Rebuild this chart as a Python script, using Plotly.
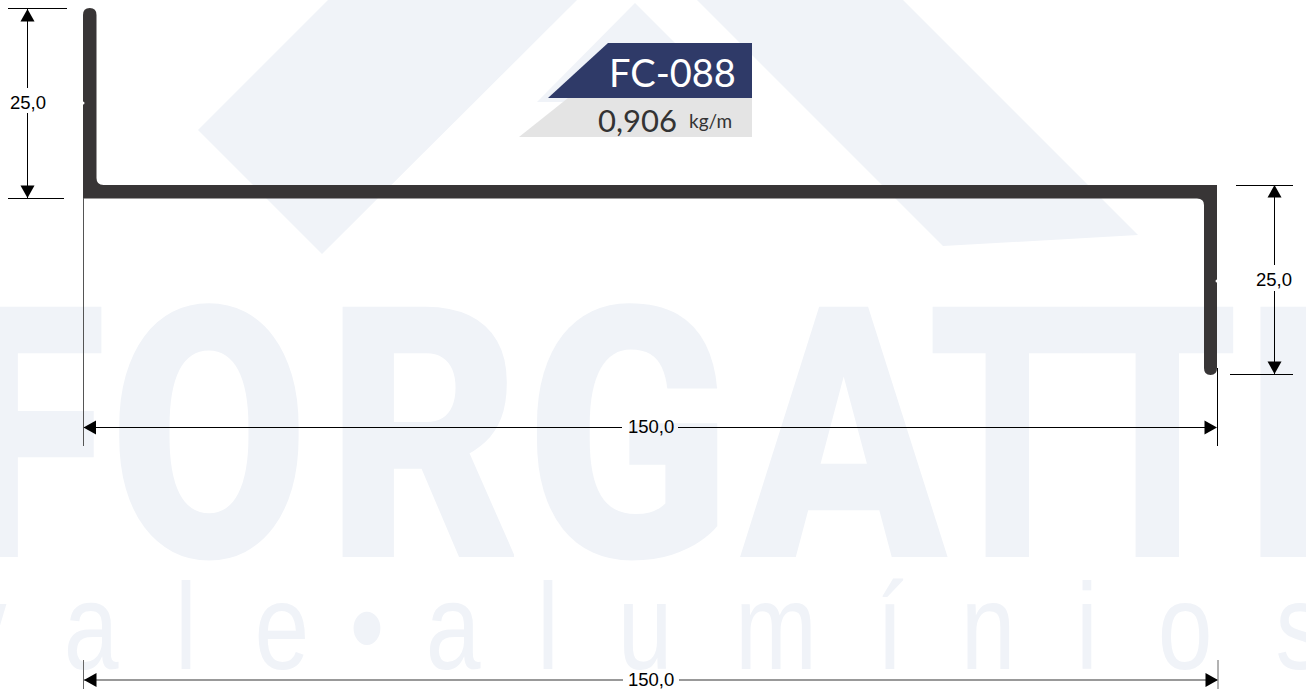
import json
import plotly.graph_objects as go

WIDTH, HEIGHT = 1306, 689
WM = "#f0f3f8"; DARK = "#383536"; NAVY = "#2f3a68"; GREY = "#e4e4e4"; INK = "#000000"

# watermark logo
roof_left = [(328, 0), (577, 0), (322, 254), (198, 130)]
roof_mid = [(635, 3), (537, 102), (720, 102), (720, 88)]
roof_right = [(697, 0), (903, 0), (1138, 235), (943, 246)]
brand_letters = list("FORGATTI")
brand_x = [31, 209, 424, 628, 844, 1008, 1158, 1284]
brand_squeeze = [0.78, 0.82, 0.85, 0.86, 0.86, 0.72, 0.72, 0.78]
brand_y = 469
sub_letters = list("vale•alumínios")
sub_x = [-18, 91, 186, 282, 367, 453, 548, 645, 776, 890, 988, 1087, 1185, 1300]
sub_squeeze = [0.8] * len(sub_letters)
sub_y = 638

# label
navy_tag = [(608, 43), (752, 43), (752, 98), (548, 98)]
grey_tag = [(568, 98), (752, 98), (752, 137), (519, 137)]
code = "FC-088"
weight = "0,906"
unit = "kg/m"

# profile outline as an SVG path in axis units
profile_path = ("M83 15 Q83 8 89.75 8 Q96.5 8 96.5 15 L96.5 178 Q96.5 185 103.5 185 L1217 185 "
                "L1217 368 Q1217 375 1210.5 375 Q1204 375 1204 368 L1204 205 Q1204 198.5 1197 198.5 "
                "L83 198.5 Z")
notches = [(83, 103), (1217, 281)]

# dimension lines: x0, y0, x1, y1, colour, width
dim_lines = [
    (8, 8.5, 67, 8.5, INK, 1), (8, 198.5, 64, 198.5, INK, 1),
    (27.5, 9, 27.5, 88, INK, 1), (27.5, 113, 27.5, 198, INK, 1),
    (1236, 185.5, 1293, 185.5, INK, 1), (1230, 374.5, 1293, 374.5, INK, 1),
    (1274.5, 185, 1274.5, 265, INK, 1), (1274.5, 291, 1274.5, 374, INK, 1),
    (83.5, 198, 83.5, 446, "#555555", 1), (1217.5, 368, 1217.5, 446, INK, 1),
    (84, 427.5, 622, 427.5, INK, 1), (678, 427.5, 1216, 427.5, INK, 1),
    (84, 680, 623, 680, "#777777", 1.5), (679, 680, 1217, 680, "#777777", 1.5),
    (83.5, 660, 83.5, 689, "#666666", 1), (1218, 660, 1218, 689, "#666666", 1),
]
# arrowheads: tip x, tip y, direction
arrows = [
    (27.5, 9, "up"), (27.5, 198, "down"), (1274.5, 185, "up"), (1274.5, 374, "down"),
    (83.5, 427.5, "left"), (1217, 427.5, "right"), (84, 680, "left"), (1218, 680, "right"),
]
dim_labels = [("25,0", 27.5, 102.5), ("25,0", 1274, 279.5), ("150,0", 650.5, 426.5), ("150,0", 651, 679.5)]


def poly(points, fill, layer):
    path = "M" + " L".join(f"{x} {y}" for x, y in points) + " Z"
    return dict(type="path", path=path, fillcolor=fill, line=dict(width=0), layer=layer, xref="x", yref="y")


def arrow(x, y, d, length=12.5, half=7):
    if d == "up":
        pts = [(x, y), (x - half, y + length), (x + half, y + length)]
    elif d == "down":
        pts = [(x, y), (x - half, y - length), (x + half, y - length)]
    elif d == "left":
        pts = [(x, y), (x + length, y - half), (x + length, y + half)]
    else:
        pts = [(x, y), (x - length, y - half), (x - length, y + half)]
    return poly(pts, INK, "above")


shapes = [poly(p, WM, "below") for p in (roof_left, roof_mid, roof_right)]
shapes += [poly(navy_tag, NAVY, "above"), poly(grey_tag, GREY, "above")]
shapes.append(dict(type="path", path=profile_path, fillcolor=DARK, line=dict(width=0), layer="above"))
for nx, ny in notches:
    shapes.append(dict(type="circle", x0=nx - 1.5, x1=nx + 1.5, y0=ny - 1.5, y1=ny + 1.5,
                       fillcolor="white", line=dict(width=0), layer="above"))
for x0, y0, x1, y1, c, w in dim_lines:
    shapes.append(dict(type="line", x0=x0, y0=y0, x1=x1, y1=y1, line=dict(color=c, width=w), layer="above"))
shapes += [arrow(*a) for a in arrows]

fig = go.Figure()
fig.add_trace(go.Scatter(x=brand_x, y=[brand_y] * len(brand_x), text=brand_letters, mode="text",
                         textposition="middle center", hoverinfo="skip",
                         textfont=dict(family="Roboto", size=352, color=WM, weight=900)))
fig.add_trace(go.Scatter(x=sub_x, y=[sub_y] * len(sub_x), text=sub_letters, mode="text",
                         textposition="middle center", hoverinfo="skip",
                         textfont=dict(family="Liberation Sans", size=123, color=WM)))

ann = [
    dict(text=code, x=672, y=72, font=dict(family="Lato", size=38, color="white")),
    dict(text=weight, x=637, y=120, font=dict(family="Lato", size=31, color="#333333")),
    dict(text=unit, x=710.5, y=120, font=dict(family="Lato", size=19, color="#333333")),
]
ann += [dict(text=t, x=x, y=y, font=dict(family="Liberation Sans", size=18.5, color=INK)) for t, x, y in dim_labels]
for a in ann:
    a.update(showarrow=False, xref="x", yref="y", xanchor="center", yanchor="middle")

fig.update_layout(
    width=WIDTH, height=HEIGHT, margin=dict(l=0, r=0, t=0, b=0), showlegend=False,
    paper_bgcolor="white", plot_bgcolor="white", shapes=shapes, annotations=ann,
    xaxis=dict(range=[0, WIDTH], visible=False, fixedrange=True),
    yaxis=dict(range=[HEIGHT, 0], visible=False, fixedrange=True),
)

post = """
document.body.style.margin='0';
document.documentElement.style.overflow='hidden';
var scales=%s;
var gs=document.querySelectorAll('.scatterlayer .trace');
gs.forEach(function(g,i){
  g.querySelectorAll('text').forEach(function(t,j){
    t.style.transformBox='fill-box';
    t.style.transformOrigin='center';
    t.style.transform='scaleX('+scales[i][j]+')';
  });
});
""" % json.dumps([brand_squeeze, sub_squeeze])
fig.write_html("out.html", post_script=post, config=dict(displayModeBar=False))
